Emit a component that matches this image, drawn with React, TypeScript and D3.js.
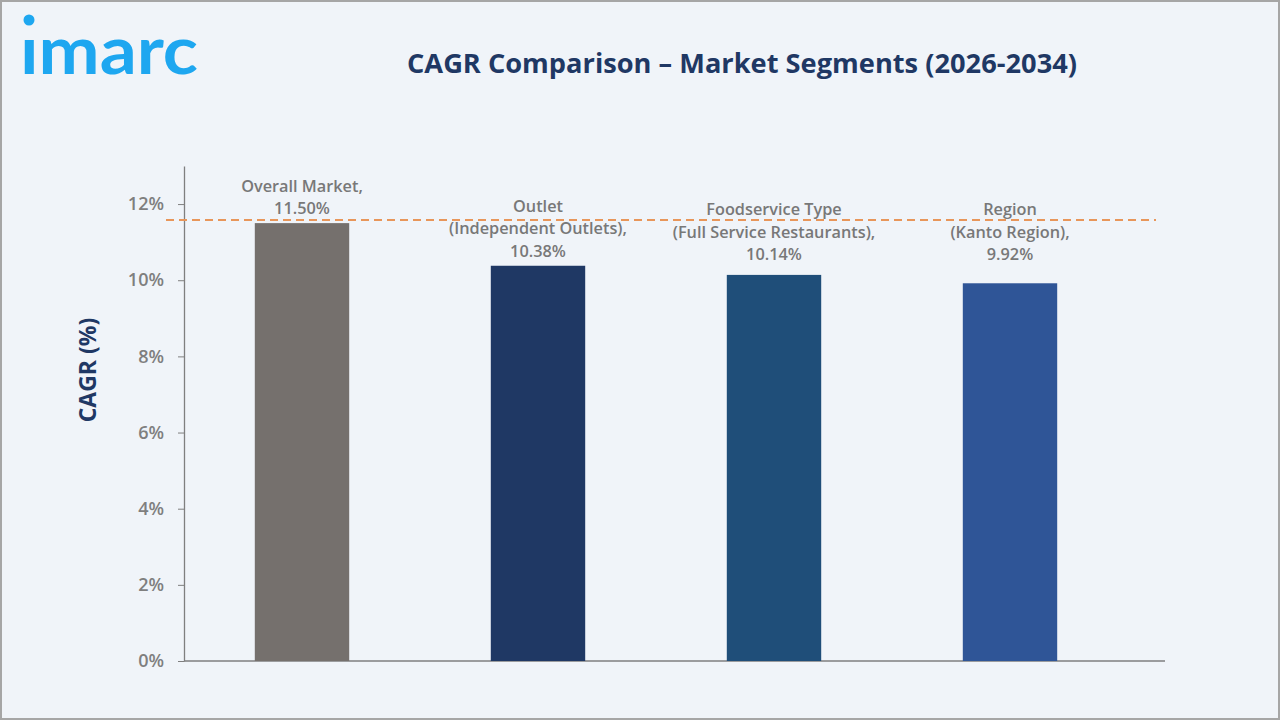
import React, { useEffect, useRef } from 'react';
import * as d3 from 'd3';

// chart data
const segments = ['Overall Market', 'Outlet', 'Foodservice Type', 'Region'];
const labelLines = [
  ['Overall Market,', '11.50%'],
  ['Outlet', '(Independent Outlets),', '10.38%'],
  ['Foodservice Type', '(Full Service Restaurants),', '10.14%'],
  ['Region', '(Kanto Region),', '9.92%'],
];
const cagrValues = [11.5, 10.38, 10.14, 9.92];
const barColors = ['#75706d', '#1f3864', '#1f4e79', '#2f5597'];
const yTicks = [0, 2, 4, 6, 8, 10, 12];
const referenceValue = 11.58;

const W = 1280;
const H = 720;

const App: React.FC = () => {
  const ref = useRef<SVGSVGElement>(null);

  useEffect(() => {
    if (!ref.current) return;
    const svg = d3.select(ref.current);
    svg.selectAll('*').remove();

    const margin = { top: 166, left: 184, bottom: 59, axisEnd: 1165 };
    const plotBottom = H - margin.bottom;

    // background + frame
    svg.append('rect').attr('width', W).attr('height', H).attr('fill', '#f0f4f9');
    svg
      .append('rect')
      .attr('x', 1)
      .attr('y', 1)
      .attr('width', W - 2)
      .attr('height', H - 2)
      .attr('fill', 'none')
      .attr('stroke', '#a6a6a6')
      .attr('stroke-width', 2);

    // logo
    svg
      .append('text')
      .attr('x', 20)
      .attr('y', 74)
      .attr('font-family', 'Lato, sans-serif')
      .attr('font-weight', 700)
      .attr('font-size', 66)
      .attr('textLength', 178)
      .attr('lengthAdjust', 'spacingAndGlyphs')
      .attr('fill', '#1ea7f0')
      .text('ımarc');
    svg.append('circle').attr('cx', 29).attr('cy', 20).attr('r', 5.5).attr('fill', '#1ea7f0');

    // title
    svg
      .append('text')
      .attr('x', 742)
      .attr('y', 73)
      .attr('text-anchor', 'middle')
      .attr('font-family', '"Open Sans", sans-serif')
      .attr('font-weight', 700)
      .attr('font-size', 26)
      .attr('textLength', 670)
      .attr('lengthAdjust', 'spacingAndGlyphs')
      .attr('fill', '#1f3864')
      .text('CAGR Comparison – Market Segments (2026-2034)');

    const x = d3
      .scaleBand<string>()
      .domain(segments)
      .range([margin.left, 1128])
      .paddingInner(0.6)
      .paddingOuter(0.3);

    const y = d3.scaleLinear().domain([0, 13]).range([plotBottom, margin.top]);

    // y axis
    const yAxis = svg
      .append('g')
      .attr('transform', `translate(${margin.left},0)`)
      .call(
        d3
          .axisLeft(y)
          .tickValues(yTicks)
          .tickFormat((d) => `${d}%`)
          .tickSize(6)
          .tickSizeOuter(0)
          .tickPadding(14)
      );
    yAxis.select('.domain').attr('stroke', '#7f7f7f').attr('stroke-width', 1.3);
    yAxis.selectAll('.tick line').attr('stroke', '#7f7f7f');
    yAxis
      .selectAll('.tick text')
      .attr('fill', '#7f7f7f')
      .attr('font-family', '"Open Sans", sans-serif')
      .attr('font-weight', 600)
      .attr('font-size', 18);

    // x axis line
    svg
      .append('line')
      .attr('x1', margin.left)
      .attr('x2', margin.axisEnd)
      .attr('y1', y(0))
      .attr('y2', y(0))
      .attr('stroke', '#7f7f7f')
      .attr('stroke-width', 1.5);

    // y label
    svg
      .append('text')
      .attr('transform', `translate(96,370) rotate(-90)`)
      .attr('text-anchor', 'middle')
      .attr('font-family', '"Open Sans", sans-serif')
      .attr('font-weight', 700)
      .attr('font-size', 23)
      .attr('fill', '#1f3864')
      .text('CAGR (%)');

    // bars
    svg
      .selectAll('rect.bar')
      .data(cagrValues)
      .enter()
      .append('rect')
      .attr('class', 'bar')
      .attr('x', (_, i) => x(segments[i]) || 0)
      .attr('y', (d) => y(d))
      .attr('width', x.bandwidth())
      .attr('height', (d) => y(0) - y(d))
      .attr('fill', (_, i) => barColors[i]);

    // reference line
    svg
      .append('line')
      .attr('x1', 166)
      .attr('x2', 1156)
      .attr('y1', y(referenceValue))
      .attr('y2', y(referenceValue))
      .attr('stroke', '#e8965a')
      .attr('stroke-width', 2)
      .attr('stroke-dasharray', '8,5');

    // labels
    const lineH = 22.5;
    labelLines.forEach((lines, i) => {
      const cx = (x(segments[i]) || 0) + x.bandwidth() / 2;
      const lastBase = Math.min(y(cagrValues[i]) - 9, 260);
      const t = svg
        .append('text')
        .attr('text-anchor', 'middle')
        .attr('font-family', '"Open Sans", sans-serif')
        .attr('font-weight', 600)
        .attr('font-size', 16.3)
        .attr('fill', '#787878');
      lines.forEach((line, j) => {
        t.append('tspan')
          .attr('x', cx)
          .attr('y', lastBase - (lines.length - 1 - j) * lineH)
          .text(line);
      });
    });
  }, []);

  return (
    <svg
      ref={ref}
      width={W}
      height={H}
      style={{ position: 'absolute', left: 0, top: 0, display: 'block' }}
    />
  );
};

export default App;
